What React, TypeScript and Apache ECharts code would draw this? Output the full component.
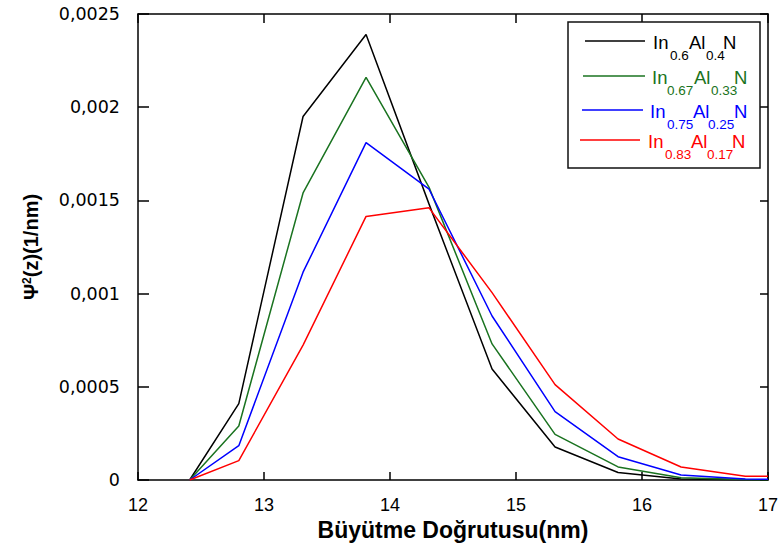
import React, { useEffect, useRef } from "react";
import * as echarts from "echarts";

// Positions along the growth direction (nm)
const xValues = [12.41, 12.8, 13.31, 13.81, 14.31, 14.81, 15.31, 15.81, 16.31, 16.82, 17.0];

// Psi^2(z) values (1/nm)
const valsIn06 = [0, 0.00041, 0.00195, 0.00239, 0.00148, 0.000595, 0.000177, 0.00004, 0.000005, 0.000001, 0];
const valsIn067 = [0, 0.00029, 0.00154, 0.00216, 0.00157, 0.00073, 0.000245, 0.00007, 0.000012, 0.000003, 0.000001];
const valsIn075 = [0, 0.000184, 0.001115, 0.00181, 0.00156, 0.00088, 0.000367, 0.000125, 0.000027, 0.000006, 0.000004];
const valsIn083 = [0, 0.000104, 0.000724, 0.001414, 0.00146, 0.001005, 0.000512, 0.00022, 0.00007, 0.00002, 0.00002];

const seriesNames = ["In0.6Al0.4N", "In0.67Al0.33N", "In0.75Al0.25N", "In0.83Al0.17N"];
const legendSubs = [
  ["0.6", "0.4"],
  ["0.67", "0.33"],
  ["0.75", "0.25"],
  ["0.83", "0.17"],
];
const colors = ["#000000", "#1a7320", "#0000ff", "#ff0000"];

const xMin = 12;
const xMax = 17;
const xStep = 1;
const yMin = 0;
const yMax = 0.0025;
const yStep = 0.0005;

const xTitle = "Büyütme Doğrutusu(nm)";

const FONT = '"Liberation Sans", Arial, sans-serif';

export default function App() {
  const ref = useRef<HTMLDivElement>(null);

  useEffect(() => {
    if (!ref.current) return;
    const chart = echarts.init(ref.current, null, { renderer: "svg" });
    const allVals = [valsIn06, valsIn067, valsIn075, valsIn083];

    // legend layout (graphic)
    const rowY = [41, 76, 110, 140];
    const lineX = [
      [585, 645],
      [583, 645],
      [582, 643],
      [580, 640],
    ];
    const textX = [
      [653, 670, 689, 706, 723],
      [652, 667, 694, 711, 734],
      [650, 667, 693, 708, 734],
      [648, 665, 691, 707, 732],
    ];
    const legendEls: any[] = [
      {
        type: "rect",
        shape: { x: 568, y: 22, width: 192, height: 146 },
        style: { fill: "#fff", stroke: "#111", lineWidth: 1.5 },
        z: 100,
      },
    ];
    seriesNames.forEach((_, i) => {
      const c = colors[i];
      legendEls.push({
        type: "line",
        shape: { x1: lineX[i][0], y1: rowY[i], x2: lineX[i][1], y2: rowY[i] },
        style: { stroke: c, lineWidth: 1.5 },
        z: 101,
      });
      const parts = ["In", legendSubs[i][0], "Al", legendSubs[i][1], "N"];
      parts.forEach((p, k) => {
        const isSub = k % 2 === 1;
        legendEls.push({
          type: "text",
          x: textX[i][k],
          y: rowY[i] + (isSub ? 14 : 1),
          style: {
            text: p,
            fill: c,
            fontSize: isSub ? 13.5 : 18.5,
            fontFamily: FONT,
            align: "left",
            verticalAlign: "middle",
          },
          z: 101,
        });
      });
    });

    const axisLineStyle = { color: "#000", width: 1.5 };
    const tickStyle = { color: "#000", width: 1.5 };

    chart.setOption({
      animation: false,
      backgroundColor: "#fff",
      grid: { left: 138, right: 16, top: 14, bottom: 74, containLabel: false },
      xAxis: [
        {
          type: "value",
          min: xMin,
          max: xMax,
          interval: xStep,
          position: "bottom",
          axisLine: { show: true, onZero: false, lineStyle: axisLineStyle },
          axisTick: { show: true, inside: true, length: 8, lineStyle: tickStyle },
          axisLabel: { color: "#000", fontSize: 18, fontFamily: FONT, margin: 16 },
          splitLine: { show: false },
          name: xTitle,
          nameLocation: "middle",
          nameGap: 37,
          nameTextStyle: { color: "#000", fontSize: 23, fontWeight: "bold", fontFamily: FONT },
        },
        {
          type: "value",
          min: xMin,
          max: xMax,
          interval: xStep,
          position: "top",
          axisLine: { show: true, onZero: false, lineStyle: axisLineStyle },
          axisTick: { show: true, inside: true, length: 9, lineStyle: tickStyle },
          axisLabel: { show: false },
          splitLine: { show: false },
        },
      ],
      yAxis: [
        {
          type: "value",
          min: yMin,
          max: yMax,
          interval: yStep,
          position: "left",
          axisLine: { show: true, onZero: false, lineStyle: axisLineStyle },
          axisTick: { show: true, inside: true, length: 11, lineStyle: tickStyle },
          axisLabel: {
            color: "#000",
            fontSize: 17.5,
            fontFamily: '"DejaVu Sans", sans-serif',
            margin: 18,
            formatter: (v: number) => String(parseFloat(v.toPrecision(6))).replace(".", ","),
          },
          splitLine: { show: false },
          name: "{a|Ψ}{s|2}{a|(z)(1/nm)}",
          nameLocation: "middle",
          nameRotate: 90,
          nameGap: 97,
          nameTextStyle: {
            rich: {
              a: { fontSize: 20, fontWeight: "bold", fontFamily: FONT, color: "#000" },
              s: { fontSize: 12, fontWeight: "bold", fontFamily: FONT, color: "#000", verticalAlign: "top" },
            },
          },
        },
        {
          type: "value",
          min: yMin,
          max: yMax,
          interval: yStep,
          position: "right",
          axisLine: { show: true, onZero: false, lineStyle: axisLineStyle },
          axisTick: { show: true, inside: true, length: 8, lineStyle: tickStyle },
          axisLabel: { show: false },
          splitLine: { show: false },
        },
      ],
      series: seriesNames.map((name, i) => ({
        name,
        type: "line",
        xAxisIndex: 0,
        yAxisIndex: 0,
        data: xValues.map((x, j) => [x, allVals[i][j]]),
        showSymbol: false,
        symbol: "none",
        lineStyle: { color: colors[i], width: 1.5 },
        itemStyle: { color: colors[i] },
        z: 2 + i,
      })),
      graphic: legendEls,
    });

    return () => chart.dispose();
  }, []);

  return <div ref={ref} style={{ width: 784, height: 554, position: "absolute", left: 0, top: 0 }} />;
}
